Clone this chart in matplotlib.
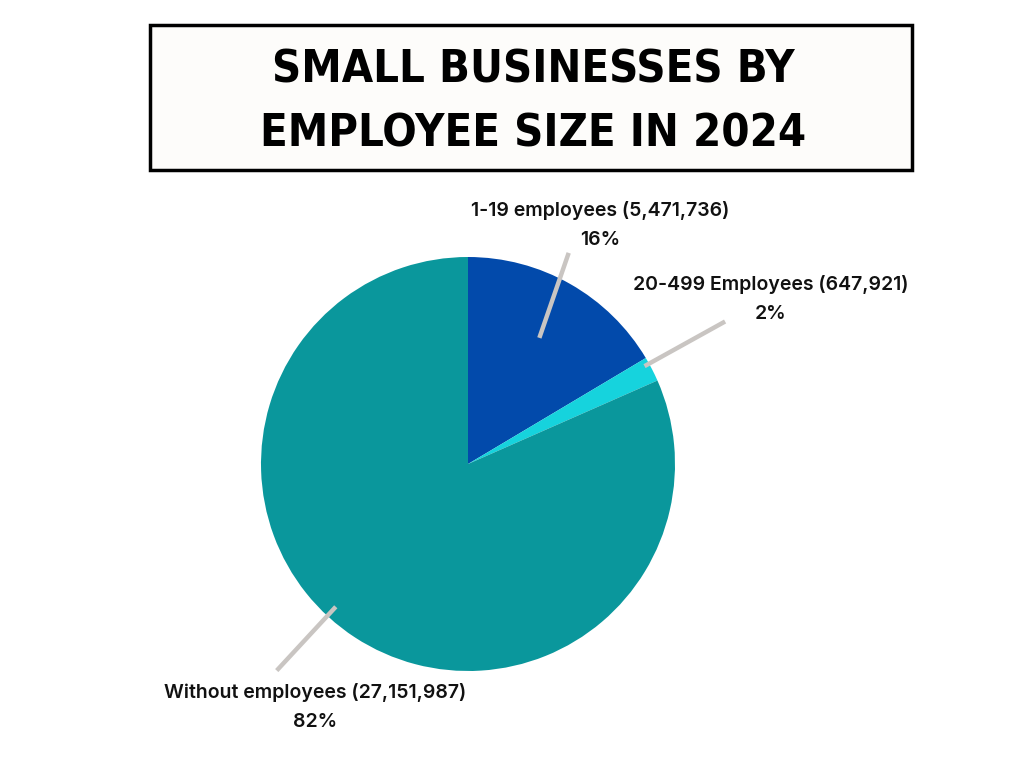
import numpy as np
import matplotlib
matplotlib.use("Agg")
from matplotlib import pyplot as plt
from matplotlib.patches import Rectangle

# data
labels = ["1-19 employees", "20-499 Employees", "Without employees"]
counts = [5471736, 647921, 27151987]
colors = ["#024aab", "#16d3dd", "#0a979c"]

title_lines = ["SMALL BUSINESSES BY", "EMPLOYEE SIZE IN 2024"]

W, H = 1024, 768
fig = plt.figure(figsize=(W / 100, H / 100), dpi=100)
fig.patch.set_facecolor("white")
ax = fig.add_axes([0, 0, 1, 1])

# pixel helper (top-left origin)
def px(x, y):
    return x, H - y

cx, cy = px(468, 464)
R = 207

wedges, _ = ax.pie(counts, colors=colors, startangle=90, counterclock=False,
                   center=(cx, cy), radius=R, frame=True,
                   wedgeprops=dict(linewidth=0))
ax.set_xlim(0, W)
ax.set_ylim(0, H)
ax.set_aspect("equal")
ax.axis("off")

total = sum(counts)
pcts = [round(c / total * 100) for c in counts]

# leader lines: angle (deg), inner/outer radius factor, tilt of outer end
leaders = [(60.5, 0.70, 1.13, 4), (29.0, 0.975, 1.42, 0), (227.2, 0.94, 1.36, 0)]
# label anchor positions (pixel coords, center of first line)
label_pos = [(600, 211), (771, 285), (315, 693)]

lab_font = dict(family=["Inter", "DejaVu Sans"], fontsize=14, weight="semibold",
                color="#111111", ha="center", va="center")

for i in range(len(labels)):
    a, r1, r2, tilt = leaders[i]
    a1 = np.radians(a)
    a2 = np.radians(a + tilt)
    x1, y1 = cx + r1 * R * np.cos(a1), cy + r1 * R * np.sin(a1)
    x2, y2 = cx + r2 * R * np.cos(a2), cy + r2 * R * np.sin(a2)
    ax.plot([x1, x2], [y1, y2], color="#c9c5c2", lw=3.2, solid_capstyle="butt", zorder=5)
    lx, ly = px(*label_pos[i])
    ax.text(lx, ly, f"{labels[i]} ({counts[i]:,})", **lab_font)
    ax.text(lx, ly - 29, f"{pcts[i]}%", **lab_font)

# title box
bx0, by0 = px(150, 170)
ax.add_patch(Rectangle((bx0, by0), 912 - 150, 170 - 25, facecolor="#fdfcfa",
                       edgecolor="black", lw=2.5, zorder=6))
for j, t in enumerate(title_lines):
    tx, ty = px(533, 70 + j * 64)
    ax.text(tx, ty, t, fontsize=32.5, weight="bold", fontstretch="condensed",
            family=["DejaVu Sans"], ha="center", va="center", color="black", zorder=7)

fig.savefig("out.png", dpi=100, facecolor="white")
